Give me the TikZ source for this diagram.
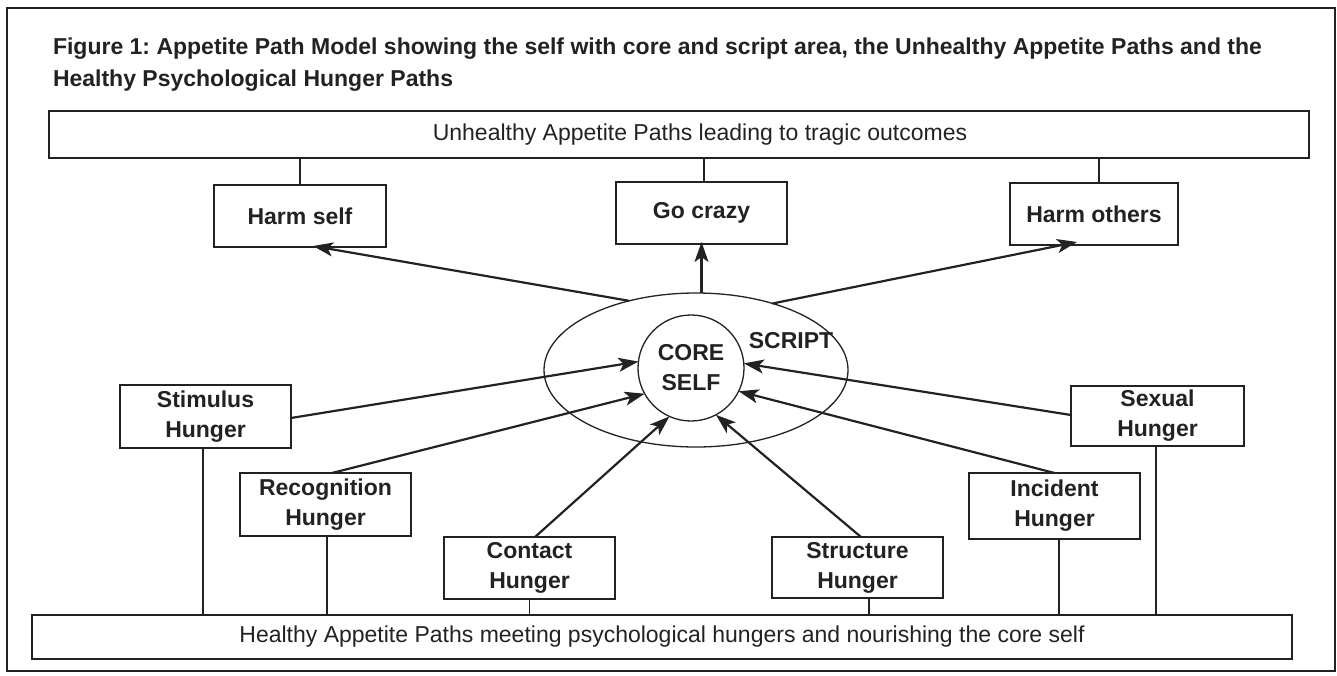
\documentclass[tikz,border=0pt]{standalone}
\usepackage{fontspec}
\setmainfont{Liberation Sans}
\usetikzlibrary{arrows.meta,shapes.geometric}
\definecolor{ink}{HTML}{222222}
\frenchspacing
\begin{document}
\begin{tikzpicture}[x=1pt,y=-1pt,
  every node/.style={inner sep=0pt,outer sep=0pt,text=ink},
  hbox/.style={draw=ink,line width=1.3pt,minimum width=171pt,minimum height=62pt,align=center,
    font=\fontsize{23}{30}\selectfont\bfseries},
  wide/.style={draw=ink,line width=1.4pt,minimum width=1260pt,font=\fontsize{23}{26}\selectfont},
  link/.style={draw=ink,line width=1.5pt},
  arr/.style={draw=ink,line width=2.2pt,-{Stealth[length=20pt,width=14pt,inset=5pt]}}
]
\useasboundingbox (0,0) rectangle (1337,675);
\draw[ink,line width=1.5pt] (7,8) rectangle (1335,671);
\node[anchor=base west,align=left,font=\fontsize{23}{32}\selectfont\bfseries] (title) at (53,86)
  {Figure 1: Appetite Path Model showing the self with core and script area, the Unhealthy Appetite Paths and the\\
   Healthy Psychological Hunger Paths};
\node[wide,minimum height=47pt] (top) at (679,134.5) {\hspace*{42pt}Unhealthy Appetite Paths leading to tragic outcomes};
\node[wide,minimum height=44pt] (bottom) at (662,637) {Healthy Appetite Paths meeting psychological hungers and nourishing the core self};
% outcomes
\node[hbox,minimum width=172pt] (harmself) at (300,216) {Harm self};
\node[hbox] (gocrazy) at (701.5,213) {Go crazy};
\node[hbox,minimum width=168pt] (harmothers) at (1094,214) {Harm others};
% self
\node[draw=ink,line width=1.3pt,ellipse,minimum width=304pt,minimum height=154pt] (script) at (696,370) {};
\node[draw=ink,line width=1.3pt,circle,minimum size=106pt,align=center,
  font=\fontsize{23}{30}\selectfont\bfseries] (core) at (691,368) {CORE\\SELF};
\node[font=\fontsize{23}{30}\selectfont\bfseries] (scriptlabel) at (791,341) {SCRIPT};
% hungers
\node[hbox,minimum height=63pt] (stimulus) at (205.5,416.5) {Stimulus\\Hunger};
\node[hbox,minimum height=63pt] (recognition) at (325.5,504.5) {Recognition\\Hunger};
\node[hbox] (contact) at (529.5,568) {Contact\\Hunger};
\node[hbox,minimum height=61pt] (structure) at (857.5,567.5) {Structure\\Hunger};
\node[hbox,minimum height=66pt] (incident) at (1054.5,506) {Incident\\Hunger};
\node[hbox,minimum width=173pt,minimum height=60pt] (sexual) at (1157.5,416) {Sexual\\Hunger};
% top links
\draw[link] (harmself.north) -- (harmself.north |- top.south);
\draw[link] ([xshift=2.5pt]gocrazy.north) -- ([xshift=2.5pt]gocrazy.north |- top.south);
\draw[link] ([xshift=5pt]harmothers.north) -- ([xshift=5pt]harmothers.north |- top.south);
% outgoing arrows
\draw[arr] (script.134) -- ([xshift=13pt,yshift=1pt]harmself.south);
\draw[arr] (gocrazy.south |- script.north) -- ([yshift=2pt]gocrazy.south);
\draw[arr] (script.41) -- ([xshift=-17pt,yshift=3pt]harmothers.south);
% incoming arrows
\draw[arr] ([yshift=-1.5pt]stimulus.east) -- (core.173);
\draw[arr] ([xshift=6.5pt]recognition.north) -- (core.209);
\draw[arr] ([xshift=5.5pt]contact.north) -- (core.246);
\draw[arr] ([xshift=3.5pt]structure.north) -- (core.298);
\draw[arr] (incident.north) -- (core.334);
\draw[arr] ([yshift=1pt]sexual.west) -- (core.5);
% bottom links
\draw[link] ([xshift=-2.5pt]stimulus.south) -- ([xshift=-2.5pt]stimulus.south |- bottom.north);
\draw[link] ([xshift=1.5pt]recognition.south) -- ([xshift=1.5pt]recognition.south |- bottom.north);
\draw[link] (contact.south) -- (contact.south |- bottom.north);
\draw[link] ([xshift=11.5pt]structure.south) -- ([xshift=11.5pt]structure.south |- bottom.north);
\draw[link] ([xshift=4.5pt]incident.south) -- ([xshift=4.5pt]incident.south |- bottom.north);
\draw[link] ([xshift=-1.5pt]sexual.south) -- ([xshift=-1.5pt]sexual.south |- bottom.north);
\end{tikzpicture}
\end{document}
